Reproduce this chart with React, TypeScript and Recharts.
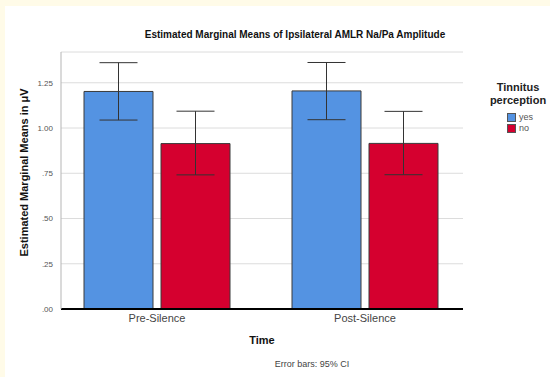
import React from 'react';
import { BarChart, Bar, XAxis, YAxis, CartesianGrid, ErrorBar, Label } from 'recharts';

const times = ['Pre-Silence', 'Post-Silence'];
const yesMeans = [1.202, 1.205];
const yesLower = [1.044, 1.046];
const yesUpper = [1.361, 1.362];
const noMeans = [0.914, 0.915];
const noLower = [0.741, 0.742];
const noUpper = [1.093, 1.092];
const yTicks = [0, 0.25, 0.5, 0.75, 1.0, 1.25];
const groups = ['yes', 'no'];

const BLUE = '#5493e2';
const RED = '#d5002f';

const data = times.map((t, i) => ({
    time: t,
    yes: yesMeans[i],
    yesErr: [yesMeans[i] - yesLower[i], yesUpper[i] - yesMeans[i]],
    no: noMeans[i],
    noErr: [noMeans[i] - noLower[i], noUpper[i] - noMeans[i]],
}));

const fmt = (v: number) => {
    const s = v.toFixed(2);
    return s.startsWith('0') ? s.slice(1) : s;
};

const LegendBox = () => (
    <div style={{ position: 'absolute', left: 478, top: 81, width: 80, color: '#222' }}>
        <div style={{ fontWeight: 'bold', fontSize: 11, lineHeight: '13px', textAlign: 'center', width: 80, whiteSpace: 'nowrap' }}>
            Tinnitus<br />perception
        </div>
        {groups.map((g, i) => (
            <div key={g} style={{ display: 'flex', alignItems: 'center', marginLeft: 29, marginTop: i === 0 ? 5 : 1, fontSize: 9, lineHeight: '10px', color: '#555' }}>
                <span style={{ display: 'inline-block', width: 7, height: 7, background: i === 0 ? BLUE : RED, border: '1px solid #555', marginRight: 3 }} />
                {g}
            </div>
        ))}
    </div>
);

export default function App() {
    return (
        <div style={{ position: 'absolute', left: 0, top: 0, width: 550, height: 377, overflow: 'hidden', background: '#fffbe8', fontFamily: '"Liberation Sans", Arial, sans-serif' }}>
            <div style={{ position: 'absolute', left: 5, top: 6, right: 0, bottom: 0, background: '#fff' }} />
            <div style={{ position: 'absolute', left: 0, top: 0 }}>
                <BarChart
                    width={550}
                    height={377}
                    data={data}
                    margin={{ top: 52, right: 87, bottom: 0, left: 0 }}
                    barGap={8}
                >
                    <CartesianGrid vertical={false} stroke="#dcdcdc" />
                    <XAxis
                        dataKey="time"
                        padding={{ left: -8, right: -6 }}
                        axisLine={{ stroke: '#000', strokeWidth: 2 }}
                        tickLine={false}
                        tickSize={3}
                        tick={{ fill: '#444', fontSize: 11 }}
                        height={68}
                    >
                        <Label value="Time" position="insideTop" offset={27} style={{ fontWeight: 'bold', fontSize: 11, fill: '#111' }} />
                    </XAxis>
                    <YAxis
                        width={61}
                        domain={[0, 1.42]}
                        ticks={yTicks}
                        tickFormatter={fmt}
                        axisLine={{ stroke: '#b5b5b5' }}
                        tickLine={false}
                        tick={{ fill: '#555', fontSize: 8 }}
                        allowDataOverflow
                    >
                        <Label value="Estimated Marginal Means in μV" angle={-90} position="insideLeft" offset={24} dy={-8} style={{ fontWeight: 'bold', fontSize: 11, fill: '#111', textAnchor: 'middle' }} />
                    </YAxis>
                    <Bar dataKey="yes" fill={BLUE} stroke="#3a3a3a" strokeWidth={1} barSize={69} isAnimationActive={false}>
                        <ErrorBar dataKey="yesErr" width={19} stroke="#333" strokeWidth={1} direction="y" />
                    </Bar>
                    <Bar dataKey="no" fill={RED} stroke="#3a3a3a" strokeWidth={1} barSize={69} isAnimationActive={false}>
                        <ErrorBar dataKey="noErr" width={19} stroke="#333" strokeWidth={1} direction="y" />
                    </Bar>
                </BarChart>
            </div>
            <LegendBox />
            <div style={{ position: 'absolute', left: 0, width: 590, top: 29, textAlign: 'center', fontWeight: 'bold', fontSize: 10, color: '#111' }}>
                Estimated Marginal Means of Ipsilateral AMLR Na/Pa Amplitude
            </div>
            <div style={{ position: 'absolute', left: 0, width: 624, top: 359, textAlign: 'center', fontSize: 9, color: '#444' }}>
                Error bars: 95% CI
            </div>
        </div>
    );
}
